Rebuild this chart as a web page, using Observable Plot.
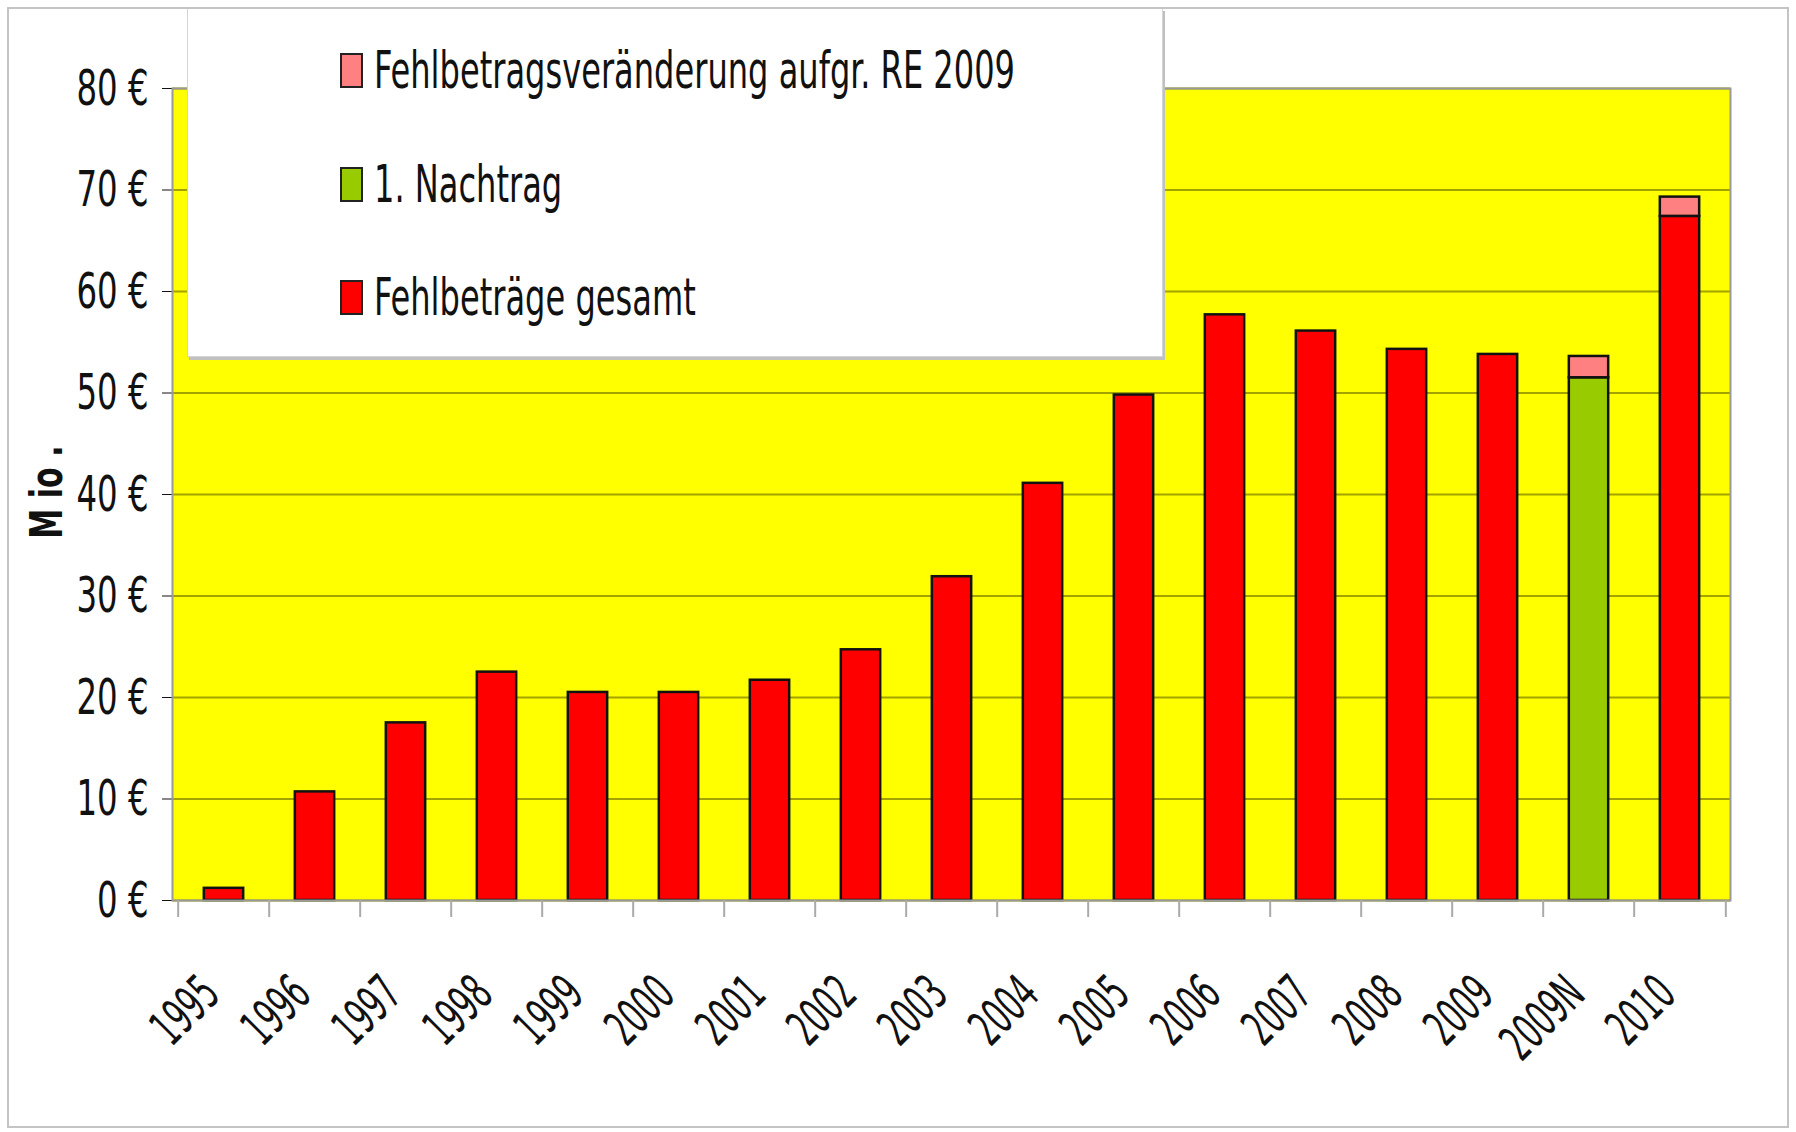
<!DOCTYPE html>
<html><head><meta charset="utf-8">
<script src="https://cdn.jsdelivr.net/npm/d3@7"></script>
<script src="https://cdn.jsdelivr.net/npm/@observablehq/plot@0.6"></script>
<style>
body{margin:0;background:#fff;}
#wrap{position:relative;width:1796px;height:1132px;overflow:hidden;font-family:"Liberation Sans Narrow","Arial Narrow","DejaVu Sans Condensed",sans-serif;}
#frame{position:absolute;left:7px;top:7px;width:1782px;height:1121px;border:2px solid #c4c4c4;box-sizing:border-box;pointer-events:none;}
#legend{position:absolute;left:187px;top:8px;width:976px;height:349px;background:#fff;border:1px solid #d4d4d4;box-shadow:2px 3px 0 #c0c0c0;box-sizing:border-box;}
.item{position:absolute;left:152px;display:flex;align-items:center;height:50px;margin-top:-25px;}
.sw{width:23px;height:35px;border:2px solid #222;box-sizing:border-box;margin-right:11px;flex:none;}
.lbl{font-size:52px;transform-origin:left center;white-space:nowrap;color:#111;}
#ylab{position:absolute;left:46px;top:492px;transform:translate(-50%,-50%) rotate(-90deg) scaleX(0.76);font-weight:bold;font-size:44px;white-space:nowrap;color:#111;}
</style></head>
<body>
<div id="wrap">
  <div id="chart"></div>
  <div id="ylab">M io .</div>
  <div id="legend"></div>
  <div id="frame"></div>
</div>
<script>
const years = ["1995","1996","1997","1998","1999","2000","2001","2002","2003","2004","2005","2006","2007","2008","2009","2009N","2010"];
const totals   = [1.2,10.7,17.5,22.5,20.5,20.5,21.7,24.7,31.9,41.1,49.8,57.7,56.1,54.3,53.8,0,67.4];
const nachtrag = [0,0,0,0,0,0,0,0,0,0,0,0,0,0,0,51.5,0];
const changeRE = [0,0,0,0,0,0,0,0,0,0,0,0,0,0,0,2.1,1.9];
const seriesNames = ["Fehlbeträge gesamt","1. Nachtrag","Fehlbetragsveränderung aufgr. RE 2009"];
const seriesColors = ["#FF0000","#99CC00","#FF8080"];
const legendOrder = ["Fehlbetragsveränderung aufgr. RE 2009","1. Nachtrag","Fehlbeträge gesamt"];
const yTicks = [0,10,20,30,40,50,60,70,80];

const rows = [];
years.forEach((y,i)=>{
  [totals,nachtrag,changeRE].forEach((arr,k)=>{
    if(arr[i]>0) rows.push({year:y, series:seriesNames[k], value:arr[i]});
  });
});

const W=1796,H=1132,mL=172,mR=66,mT=88,mB=232;
const step=(W-mL-mR)/years.length;
const inset=(step-40)/2;
const font='"Liberation Sans Narrow","Arial Narrow","DejaVu Sans Condensed",sans-serif';

const plot = Plot.plot({
  width:W,height:H,marginLeft:mL,marginRight:mR,marginTop:mT,marginBottom:mB,
  style:{background:"transparent",fontFamily:font,fontSize:"50px",color:"#111"},
  x:{type:"band",domain:years,padding:0,label:null,axis:null},
  y:{domain:[0,80],ticks:yTicks,tickFormat:d=>`${d} €`,label:null,tickSize:10,tickPadding:14},
  color:{domain:seriesNames,range:seriesColors},
  marks:[
    Plot.frame({fill:"#FFFF00",stroke:"none"}),
    Plot.gridY(yTicks,{stroke:"#a3a300",strokeOpacity:1,strokeWidth:2}),
    Plot.barY(rows,{x:"year",y:"value",fill:"series",order:seriesNames,stroke:"#111",strokeWidth:2.5,insetLeft:inset,insetRight:inset}),
    Plot.frame({stroke:"#999",strokeWidth:2}),
    Plot.ruleX(years,{x:d=>d,dx:-step/2,y1:0,y2:0,insetBottom:-17,stroke:"#aaa",strokeWidth:2}),
    Plot.ruleX(years.slice(-1),{x:d=>d,dx:step/2,y1:0,y2:0,insetBottom:-17,stroke:"#aaa",strokeWidth:2}),
    Plot.text(years,{x:d=>d,y:0,text:d=>d,rotate:-45,textAnchor:"end",dx:-13,dy:85,fontSize:50,fill:"#111"})
  ]
});
document.getElementById("chart").appendChild(plot);

// narrow the tick labels like the condensed font of the original
d3.select(plot).selectAll("text").each(function(){
  const t=this.textContent;
  if(!t) return;
  const isY=t.includes("€");
  const f=isY?0.72:0.63;
  const L=this.getComputedTextLength();
  this.setAttribute("textLength",(L*f).toFixed(1));
  this.setAttribute("lengthAdjust","spacingAndGlyphs");
});

const lg=document.getElementById("legend");
const legendY=[61,175,288];
legendOrder.forEach((name,i)=>{
  const it=document.createElement("div");
  it.className="item"; it.style.top=legendY[i]+"px";
  const sw=document.createElement("div"); sw.className="sw";
  sw.style.background=seriesColors[seriesNames.indexOf(name)];
  const lb=document.createElement("span"); lb.className="lbl"; lb.textContent=name;
  it.appendChild(sw); it.appendChild(lb); lg.appendChild(it);
});
const first=lg.querySelector(".lbl");
const w=first.getBoundingClientRect().width;
const s=Math.min(1,641/w);
lg.querySelectorAll(".lbl").forEach(el=>el.style.transform=`scaleX(${s})`);
</script>
</body></html>
